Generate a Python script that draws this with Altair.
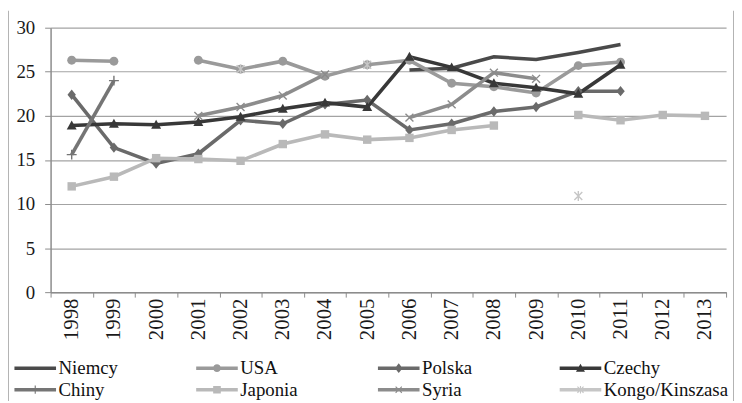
import altair as alt
import pandas as pd
import math

years = ["1998", "1999", "2000", "2001", "2002", "2003", "2004", "2005",
         "2006", "2007", "2008", "2009", "2010", "2011", "2012", "2013"]

series_names = ["Niemcy", "USA", "Polska", "Czechy", "Chiny", "Japonia", "Syria", "Kongo/Kinszasa"]

niemcy = [None, None, None, None, None, None, None, None, 25.2, 25.4, 26.7, 26.4, 27.2, 28.1, None, None]
usa = [26.3, 26.2, None, 26.3, 25.3, 26.2, 24.5, 25.8, 26.3, 23.7, 23.3, 22.6, 25.7, 26.1, None, None]
polska = [22.4, 16.4, 14.6, 15.7, 19.5, 19.1, 21.3, 21.8, 18.4, 19.1, 20.5, 21.0, 22.8, 22.8, None, None]
czechy = [18.9, 19.1, 19.0, 19.3, 19.9, 20.8, 21.5, 21.0, 26.7, 25.5, 23.7, 23.2, 22.5, 25.8, None, None]
chiny = [15.6, 24.0, None, None, None, None, None, None, None, None, None, None, None, None, None, None]
japonia = [12.0, 13.1, 15.2, 15.1, 14.9, 16.8, 17.9, 17.3, 17.5, 18.4, 18.9, None, 20.1, 19.5, 20.1, 20.0]
syria = [None, None, None, 20.0, 21.0, 22.3, 24.7, None, 19.8, 21.3, 24.9, 24.2, None, None, None, None]
kongo = [None, None, None, None, 25.3, None, None, 25.8, None, None, None, None, 10.9, None, None, None]

series_values = [niemcy, usa, polska, czechy, chiny, japonia, syria, kongo]
colors = ["#4a4a4a", "#9a9a9a", "#6a6a6a", "#383838", "#757575", "#b9b9b9", "#8c8c8c", "#c6c6c6"]

rows = []
for name, vals in zip(series_names, series_values):
    for yr, v in zip(years, vals):
        rows.append({"year": yr, "series": name, "value": v})
df = pd.DataFrame(rows)


# ---- marker shapes (unit square -1..1); all sub-paths clockwise on screen ----
def f(v):
    return f"{v:.3f}"


def rect(x0, y0, x1, y1):
    return f"M{f(x0)},{f(y0)}H{f(x1)}V{f(y1)}H{f(x0)}Z"


def circle(r):
    return f"M{f(-r)},0A{f(r)},{f(r)} 0 1,1 {f(r)},0A{f(r)},{f(r)} 0 1,1 {f(-r)},0Z"


def diamond(w, h):
    return f"M0,{f(-h)}L{f(w)},0L0,{f(h)}L{f(-w)},0Z"


def triangle(s):
    return f"M0,{f(-s)}L{f(s)},{f(0.8 * s)}L{f(-s)},{f(0.8 * s)}Z"


def plus(a, t):
    return rect(-a, -t, a, t) + rect(-t, -a, t, a)


def xshape(a, t):
    k = t / math.sqrt(2)
    p = f"M{f(-a + k)},{f(-a - k)}L{f(a + k)},{f(a - k)}L{f(a - k)},{f(a + k)}L{f(-a - k)},{f(-a + k)}Z"
    q = f"M{f(-a + k)},{f(a + k)}L{f(-a - k)},{f(a - k)}L{f(a - k)},{f(-a - k)}L{f(a + k)},{f(-a + k)}Z"
    return p + q


def asterisk(a, t):
    return xshape(a * 0.8, t) + rect(-t, -a, t, a)


chart_shapes = [
    "M0,0",
    circle(0.9),
    diamond(0.85, 1.05),
    triangle(1.0),
    plus(1.0, 0.14),
    rect(-0.85, -0.85, 0.85, 0.85),
    xshape(0.8, 0.14),
    asterisk(1.0, 0.14),
]

line_bar = rect(-3.0, -0.25, 3.0, 0.25)
legend_shapes = [
    line_bar,
    line_bar + circle(0.55),
    line_bar + diamond(0.55, 0.7),
    line_bar + triangle(0.65),
    line_bar + rect(-0.08, -0.6, 0.08, 0.6),
    line_bar + rect(-0.55, -0.55, 0.55, 0.55),
    line_bar + xshape(0.45, 0.08),
    line_bar + asterisk(0.55, 0.08),
]

serif = "Liberation Serif"

x_enc = alt.X(
    "year:O",
    sort=years,
    bandPosition=0.5,
    scale=alt.Scale(type="band", domain=years, paddingInner=0, paddingOuter=0),
    axis=alt.Axis(
        title=None, labelAngle=270, labelAlign="right", labelBaseline="middle",
        tickBand="extent", tickSize=5, labelPadding=1,
        labelFontSize=21, domainWidth=1.5, grid=False,
    ),
)
y_enc = alt.Y(
    "value:Q",
    scale=alt.Scale(domain=[0, 30], nice=False, zero=True),
    axis=alt.Axis(
        title=None, values=[0, 5, 10, 15, 20, 25, 30], grid=True,
        gridColor="#a3a3a3", gridWidth=1.2, tickSize=6, labelPadding=10,
        labelFontSize=19, domainWidth=1.5,
    ),
)

base = alt.Chart(df)

lines = base.mark_line(strokeWidth=3.6).encode(
    x=x_enc,
    y=y_enc,
    color=alt.Color("series:N", scale=alt.Scale(domain=series_names, range=colors), legend=None),
)

points = base.transform_filter(
    "datum.value != null && datum.series != 'Niemcy'"
).mark_point(filled=True, size=100, opacity=1).encode(
    x=x_enc,
    y=y_enc,
    color=alt.Color("series:N", scale=alt.Scale(domain=series_names, range=colors), legend=None),
    shape=alt.Shape("series:N", scale=alt.Scale(domain=series_names, range=chart_shapes), legend=None),
)

legend_props = dict(
    title=None, orient="none", legendX=-25, legendY=334, columns=4,
    direction="horizontal",
    gridAlign="all", columnPadding=12.5, rowPadding=2,
    labelFontSize=19, symbolSize=196, labelOffset=14,
    labelLimit=400, symbolStrokeWidth=0, symbolOpacity=1,
)

legend_layer = base.transform_filter("false").mark_point(filled=True, opacity=1).encode(
    x=x_enc,
    y=y_enc,
    color=alt.Color("series:N", scale=alt.Scale(domain=series_names, range=colors),
                    legend=alt.Legend(**legend_props)),
    shape=alt.Shape("series:N", scale=alt.Scale(domain=series_names, range=legend_shapes),
                    legend=alt.Legend(**legend_props)),
)

frame_df = pd.DataFrame({"k": [0]})
frame_left = alt.Chart(frame_df).mark_rule(color="#9a9a9a", strokeWidth=1.5).encode(
    x=alt.value(-43), y=alt.value(-17), y2=alt.value(380)
)
frame_right = alt.Chart(frame_df).mark_rule(color="#9a9a9a", strokeWidth=1.5).encode(
    x=alt.value(690), y=alt.value(-17), y2=alt.value(380)
)

chart = alt.layer(lines, points, legend_layer, frame_left, frame_right).resolve_scale(
    color="independent", shape="independent"
).properties(
    width=682,
    height=267,
    autosize=alt.AutoSizeParams(type="none"),
    padding={"left": 43, "top": 18, "right": 8, "bottom": 108},
    background="white",
).configure_view(
    stroke=None
).configure_axis(
    labelFont=serif, labelColor="#1a1a1a", domainColor="#8c8c8c", tickColor="#8c8c8c"
).configure_legend(
    labelFont=serif, labelColor="#111111"
).configure_text(font=serif)

chart.save("out.html", embed_options={"renderer": "svg", "actions": False})
